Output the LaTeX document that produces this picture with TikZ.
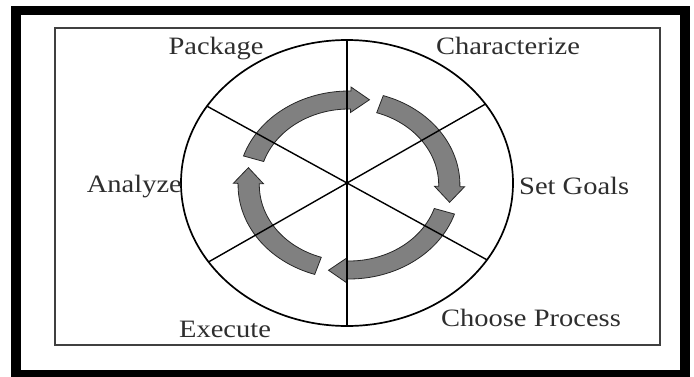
\documentclass[tikz,border=0pt]{standalone}
\usepackage{fontspec}
\setmainfont{Liberation Serif}[FakeStretch=1.14]
\usetikzlibrary{positioning}
\tikzset{
  frame/.style={draw=black, line width=9.5pt},
  panel/.style={draw=black!75, line width=1.4pt},
  wheel/.style={draw=black, line width=1.7pt},
  spoke/.style={draw=black, line width=1.4pt},
  cyclearrow/.style={fill=black!50, draw=black!85, line width=0.8pt},
  stagelbl/.style={font=\fontsize{25}{28}\selectfont, text=black!82, inner sep=0pt},
}

\begin{document}
\begin{tikzpicture}[x=1pt, y=1pt]
\useasboundingbox (-347,-193) rectangle (347,183);

%% ── the frames ───────────────────────────────────────────────────────────
\draw[frame] (-331,172.5) rectangle (338,-191.75);
\draw[panel] (-292,155) rectangle (313,-162);

%% ── the four turning arrows (drawn first, the spokes run over them) ────
\begin{scope}[shift={(2,-2)}, xscale=1.18]
  \foreach \k in {0,...,3}{
    \pgfmathsetmacro\tail{162-90*\k}
    \pgfmathsetmacro\base{89-90*\k}
    \pgfmathsetmacro\tip{78.5-90*\k}
    \filldraw[cyclearrow] (\tail:94) arc[start angle=\tail, end angle=\base, radius=94]
      -- (\base:98) -- (\tip:87) -- (\base:72.5) -- (\base:76)
      arc[start angle=\base, end angle=\tail, radius=76] -- cycle;
  }
\end{scope}

%% ── the wheel and its six sectors ────────────────────────────────────────
\coordinate (hub) at (0,0);
\draw[wheel] (hub) ellipse[x radius=166, y radius=143];
\draw[spoke] (90:166 and 143) -- (270:166 and 143);
\draw[spoke] (33.5:166 and 143) -- (213.5:166 and 143);
\draw[spoke] (147.5:166 and 143) -- (327.5:166 and 143);

%% ── the stages ───────────────────────────────────────────────────────────
\node[stagelbl, anchor=base] (package) at (-131,129) {Package};
\node[stagelbl, anchor=base] (characterize) at (161,129) {Characterize};
\node[stagelbl, anchor=base west] (setgoals) at (172,-11) {Set Goals};
\node[stagelbl, anchor=base] (choose) at (184,-143.5) {Choose Process};
\node[stagelbl, anchor=base] (execute) at (-122,-154) {Execute};
\node[stagelbl, anchor=base east] (analyze) at (-165,-9) {Analyze};

\end{tikzpicture}
\end{document}
